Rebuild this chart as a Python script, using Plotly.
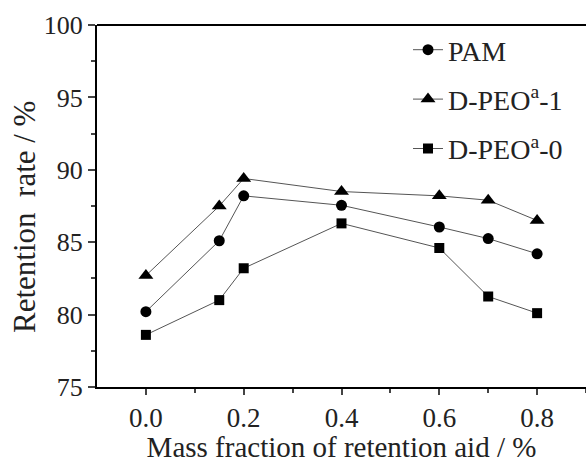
import plotly.graph_objects as go

x_vals = [0.0, 0.15, 0.2, 0.4, 0.6, 0.7, 0.8]
pam = [80.2, 85.1, 88.2, 87.55, 86.05, 85.25, 84.2]
dpeo1 = [82.7, 87.5, 89.4, 88.5, 88.2, 87.9, 86.5]
dpeo0 = [78.6, 81.0, 83.2, 86.3, 84.6, 81.25, 80.1]

names = ["PAM", "D-PEO<sup>a</sup>-1", "D-PEO<sup>a</sup>-0"]
symbols = ["circle", "triangle-up", "square"]
sizes = [11, 13, 10]
series = [pam, dpeo1, dpeo0]

FONT = "Liberation Serif"
fig = go.Figure()
for i, (nm, ys) in enumerate(zip(names, series)):
    fig.add_trace(go.Scatter(
        x=x_vals, y=ys, name=nm, mode="lines+markers",
        legendgroup=f"g{i}",
        line=dict(color="#555555", width=1),
        marker=dict(symbol=symbols[i], size=sizes[i], color="black"),
    ))

fig.update_layout(
    width=586, height=463,
    margin=dict(l=97, r=0, t=25, b=76),
    paper_bgcolor="white", plot_bgcolor="white",
    font=dict(family=FONT, size=26, color="#222"),
    showlegend=True,
    legend=dict(x=0.636, y=1.0, xanchor="left", yanchor="top",
                bgcolor="rgba(0,0,0,0)", traceorder="grouped",
                tracegroupgap=10, font=dict(family=FONT, size=28)),
    xaxis=dict(range=[-0.1, 0.9], tickvals=[0.0, 0.2, 0.4, 0.6, 0.8],
               tickformat=".1f", ticks="outside", ticklen=6, tickwidth=1.5,
               showline=True, linecolor="black", linewidth=2, showgrid=False,
               zeroline=False, tickfont=dict(size=27), automargin=False,
               minor=dict(tickvals=[0.1, 0.3, 0.5, 0.7, 0.9], ticks="outside", ticklen=4, tickwidth=1.5),
               title=dict(text="Mass fraction of retention aid / %", standoff=14, font=dict(size=29))),
    yaxis=dict(range=[75, 100], tickvals=[75, 80, 85, 90, 95, 100],
               ticks="outside", ticklen=7, tickwidth=1.5,
               showline=True, linecolor="black", linewidth=2, showgrid=False,
               zeroline=False, tickfont=dict(size=26), automargin=False,
               minor=dict(tickvals=[77.5, 82.5, 87.5, 92.5, 97.5], ticks="outside", ticklen=4, tickwidth=1.5)),
)
fig.add_annotation(text="Retention  rate / %", textangle=-90, xref="paper", yref="paper",
                   x=-0.147, y=0.47, xanchor="center", yanchor="middle", showarrow=False,
                   font=dict(family=FONT, size=31, color="#222"))
fig.add_shape(type="line", xref="paper", yref="paper", x0=0, x1=1, y0=1, y1=1,
              line=dict(color="black", width=2))

fig.write_html("out.html")
